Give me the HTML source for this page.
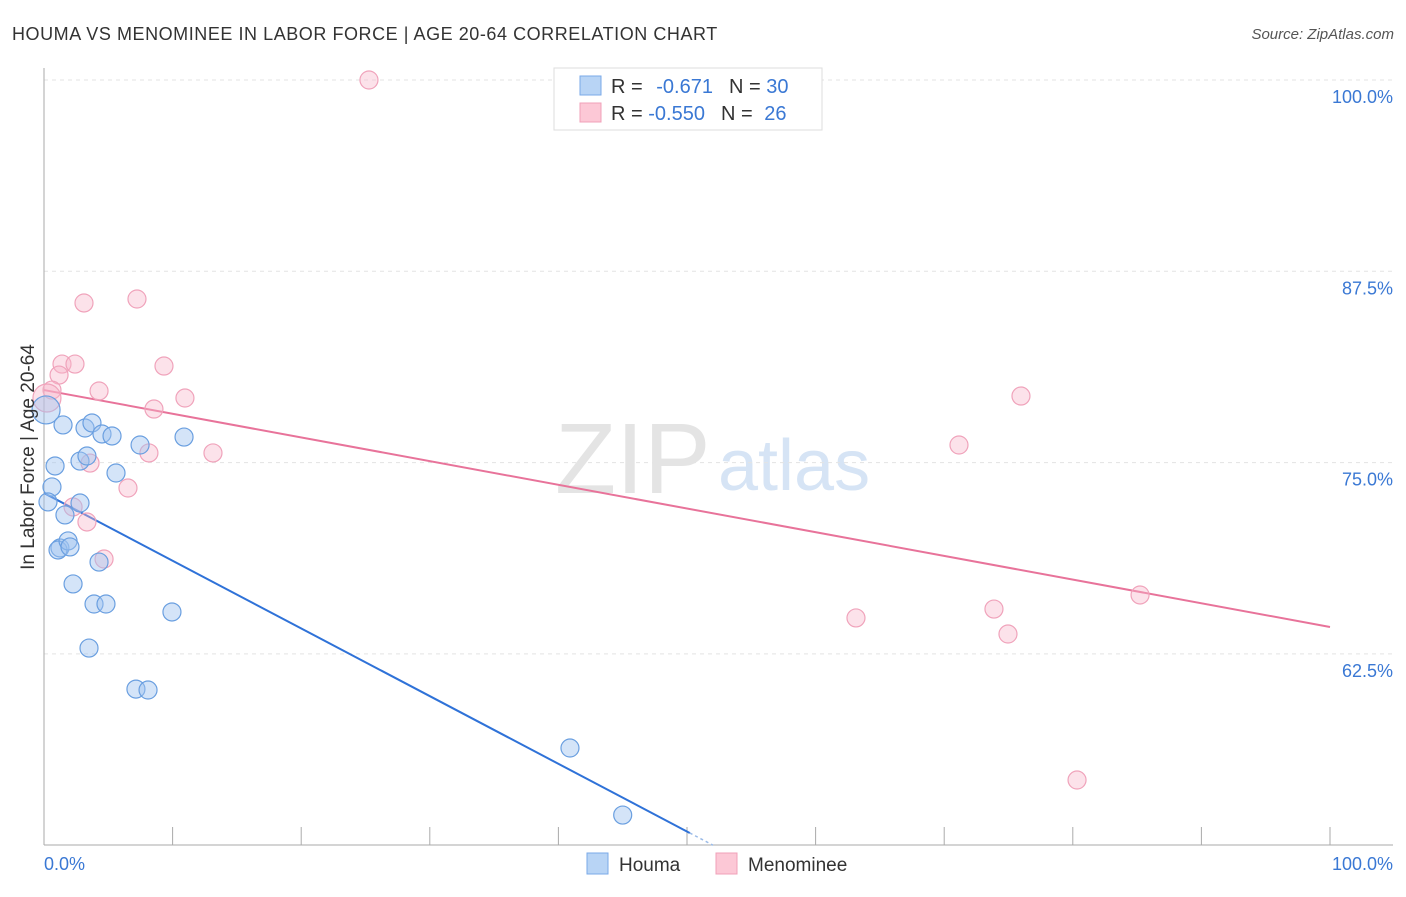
<!DOCTYPE html>
<html><head><meta charset="utf-8"><style>
body{margin:0;background:#fff;font-family:"Liberation Sans",sans-serif;}
svg text{font-family:"Liberation Sans",sans-serif;}
</style></head><body>
<svg id="chart" width="1406" height="892" viewBox="0 0 1406 892">
<text x="12" y="40" font-size="18" letter-spacing="0.55" fill="#333">HOUMA VS MENOMINEE IN LABOR FORCE | AGE 20-64 CORRELATION CHART</text>
<text x="1394" y="39" font-size="15" fill="#555" text-anchor="end" font-style="italic">Source: ZipAtlas.com</text>
<g>
<text x="555" y="493" font-size="100" fill="#e4e4e4" font-family="Liberation Serif,serif">ZIP</text>
<text x="718" y="490" font-size="72" fill="#d6e4f5">atlas</text>
</g>
<g id="grid"></g>
<g id="axes"></g>
<g id="trends"></g>
<g id="points"></g>
<text transform="translate(34,457) rotate(-90)" font-size="19" fill="#333" text-anchor="middle">In Labor Force | Age 20-64</text>
<g>
<rect x="554" y="68" width="268" height="62" fill="#fff" stroke="#ddd"/>
<rect x="580" y="76" width="21" height="19" fill="#b8d4f5" stroke="#7aaae8"/>
<rect x="580" y="103" width="21" height="19" fill="#fcc8d6" stroke="#f0a0b8"/>
<text x="611" y="93" font-size="20" fill="#333">R = <tspan fill="#3a78d4" dx="8">-0.671</tspan><tspan dx="16" fill="#333">N = </tspan><tspan fill="#3a78d4">30</tspan></text>
<text x="611" y="120" font-size="20" fill="#333">R = <tspan fill="#3a78d4">-0.550</tspan><tspan dx="16" fill="#333">N = </tspan><tspan fill="#3a78d4" dx="6">26</tspan></text>
</g>
<g>
<rect x="587" y="853" width="21" height="21" fill="#b8d4f5" stroke="#7aaae8"/>
<text x="619" y="871" font-size="19" fill="#333">Houma</text>
<rect x="716" y="853" width="21" height="21" fill="#fcc8d6" stroke="#f0a0b8"/>
<text x="748" y="871" font-size="19" fill="#333">Menominee</text>
</g>
</svg>
<script>
const yTicks=[100,87.5,75,62.5];
const yTickLabels=["100.0%","87.5%","75.0%","62.5%"];
const xTickVals=[0,10,20,30,40,50,60,70,80,90,100];
const houmaX=[0.16,1.48,3.19,3.73,4.51,5.29,7.47,10.89,0.86,2.80,3.34,5.60,0.62,2.80,1.63,1.24,1.09,1.87,2.02,4.28,2.26,3.89,4.82,9.95,3.50,7.15,8.09,40.9,45.0,0.31];
const houmaY=[78.44,77.46,77.26,77.59,76.87,76.74,76.15,76.67,74.78,75.10,75.43,74.32,73.41,72.36,71.58,69.42,69.29,69.88,69.49,68.50,67.07,65.76,65.76,65.24,62.88,60.20,60.14,56.35,51.97,72.43];
const menX=[25.27,3.11,7.23,1.40,2.41,1.17,0.62,0.23,4.28,9.33,8.55,10.96,3.58,8.16,13.14,6.53,2.26,3.34,4.67,71.15,75.97,63.14,73.87,74.96,85.23,80.33];
const menY=[100.0,85.43,85.69,81.44,81.44,80.72,79.74,79.22,79.68,81.31,78.50,79.22,74.97,75.63,75.63,73.34,72.10,71.12,68.70,76.15,79.35,64.85,65.43,63.80,66.35,54.26];
const houmaTrend=[73.01,28.78]; // y at x=0, x=100
const menTrend=[79.74,64.26];
const NS="http://www.w3.org/2000/svg";
const X=v=>44+v*12.86;
const Y=v=>80+(100-v)*15.304;
function mk(tag,attrs,parent){const e=document.createElementNS(NS,tag);for(const k in attrs)e.setAttribute(k,attrs[k]);parent.appendChild(e);return e;}
const grid=document.getElementById('grid'),axes=document.getElementById('axes');
yTicks.forEach((t,i)=>{
 const l=mk('line',{x1:44,x2:1393,y1:Y(t),y2:Y(t),stroke:'#e3e3e3','stroke-dasharray':'4,4'},grid);
 
 
 const tx=mk('text',{x:1393,y:Y(t)+23,'font-size':18,fill:'#3a78d4','text-anchor':'end'},axes);
 tx.textContent=yTickLabels[i];
 
 
});
const ya=mk('line',{x1:44,x2:44,y1:68,y2:845,stroke:'#aaa'},axes);


const xa=mk('line',{x1:44,x2:1393,y1:845,y2:845,stroke:'#aaa'},axes);


xTickVals.forEach(v=>{
 const t=mk('line',{x1:X(v),x2:X(v),y1:827,y2:845,stroke:'#aaa'},axes);
 
 
});
const xl0=mk('text',{x:44,y:870,'font-size':18,fill:'#3a78d4'},axes);xl0.textContent='0.0%';


const xl1=mk('text',{x:1393,y:870,'font-size':18,fill:'#3a78d4','text-anchor':'end'},axes);xl1.textContent='100.0%';


const tr=document.getElementById('trends');
const hs=(houmaTrend[1]-houmaTrend[0])/100;
const xEnd=(50.8-houmaTrend[0])/hs, xAx=(50-houmaTrend[0])/hs;
const h1=mk('line',{x1:X(0),y1:Y(houmaTrend[0]),x2:X(xEnd),y2:Y(houmaTrend[0]+hs*xEnd),stroke:'#2f72d8','stroke-width':2},tr);


const h2=mk('line',{x1:X(xEnd),y1:Y(houmaTrend[0]+hs*xEnd),x2:X(xAx),y2:Y(50),stroke:'#9bbbe8','stroke-width':1.5,'stroke-dasharray':'3,3'},tr);


const m1=mk('line',{x1:X(0),y1:Y(menTrend[0]),x2:X(100),y2:Y(menTrend[1]),stroke:'#e8739a','stroke-width':2},tr);


const pts=document.getElementById('points');
menX.forEach((x,i)=>{
 const c=mk('circle',{cx:X(x),cy:Y(menY[i]),r:(i===7?14:9),fill:'rgba(248,182,202,0.4)',stroke:'#f0a3bb','stroke-width':1.2},pts);
 
 
});
houmaX.forEach((x,i)=>{
 const c=mk('circle',{cx:X(x),cy:Y(houmaY[i]),r:(i===0?14:9),fill:'rgba(160,196,240,0.45)',stroke:'#6a9fe0','stroke-width':1.2},pts);
 
 
});
</script>
</body></html>
